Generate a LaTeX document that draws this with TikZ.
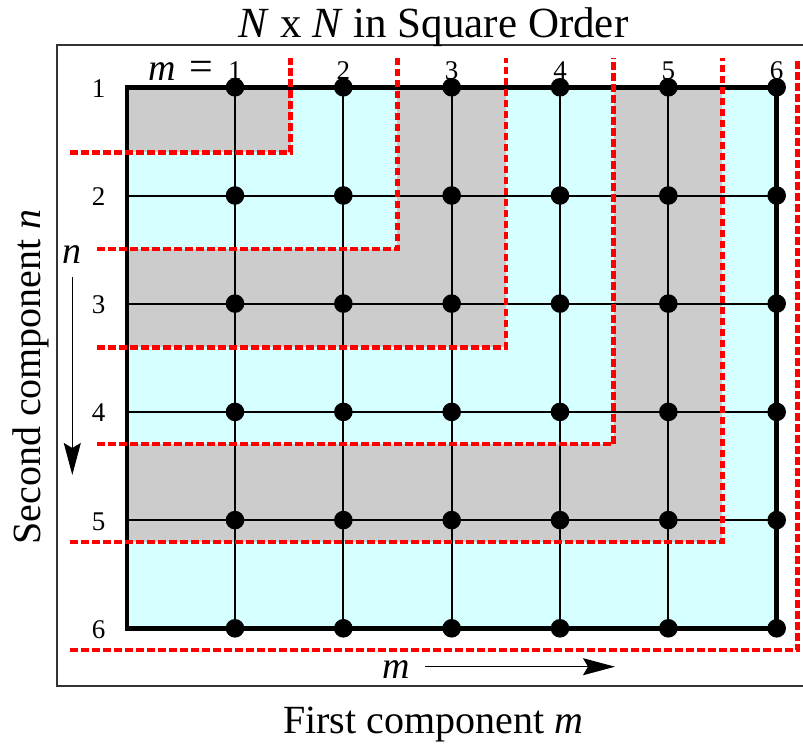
\documentclass[tikz,border=0pt]{standalone}
\usepackage{fontspec}
\setmainfont{Liberation Serif}
\usetikzlibrary{arrows.meta}
\definecolor{shellgrey}{HTML}{CCCCCC}
\definecolor{shellcyan}{HTML}{D6FFFF}
\definecolor{dashred}{HTML}{FF0000}
\definecolor{framecol}{HTML}{333333}
\begin{document}
\begin{tikzpicture}[x=1pt,y=-1pt,
  redline/.style={draw=dashred, line width=4.8pt, dash pattern=on 7.8pt off 3.2pt},
  gridline/.style={draw=black, line width=2pt},
  borderline/.style={draw=black, line width=4.6pt, line join=miter},
  dotnode/.style={circle, fill=black, inner sep=0pt, minimum size=18.6pt},
  numlab/.style={font=\fontsize{27}{27}\selectfont, anchor=base, inner sep=0pt},
  biglab/.style={font=\fontsize{40}{40}\selectfont, inner sep=0pt},
  dirarrow/.style={draw=black, line width=1.4pt, -{Stealth[length=32pt,width=17pt,inset=5pt]}}
]
\useasboundingbox (0,0) rectangle (803,744);
% frame
\draw[framecol, line width=1.5pt] (803,45) -- (57,45) -- (57,686) -- (803,686);
% coordinates
\def\xs{{127,235,343.33,451.67,560,668.33,776.67}}
\def\ys{{87.3,195.5,303.6,411.9,520.1,628.3}}
\coordinate (TL) at (127,87.3);
\coordinate (BR) at (776.67,628.3);
% shells
\fill[shellcyan] (TL) rectangle (BR);
\fill[shellgrey] (TL) rectangle (722.3,542);
\fill[shellcyan] (TL) rectangle (613.7,444);
\fill[shellgrey] (TL) rectangle (506,347.3);
\fill[shellcyan] (TL) rectangle (397.3,249);
\fill[shellgrey] (TL) rectangle (290.7,152.3);
% grid coordinates
\foreach \i in {1,...,6}{
  \foreach \j in {1,...,6}{
    \pgfmathsetmacro{\px}{\xs[\i]}
    \pgfmathsetmacro{\py}{\ys[\j-1]}
    \coordinate (g-\i-\j) at (\px,\py);
  }
  \pgfmathsetmacro{\py}{\ys[\i-1]}
  \coordinate (L-\i) at (127,\py);
}
% grid lines
\foreach \j in {2,...,5}{ \draw[gridline] (L-\j) -- (g-6-\j); }
\foreach \i in {1,...,5}{ \draw[gridline] (g-\i-1) -- (g-\i-6); }
% border
\draw[borderline] (TL) rectangle (BR);
% dots
\foreach \i in {1,...,6}{
  \foreach \j in {1,...,6}{ \node[dotnode] (d-\i-\j) at (g-\i-\j) {}; }
}
% red shell boundaries
\draw[redline] (70,152.3) -- (290.7,152.3) -- (290.7,58);
\draw[redline] (97,249) -- (397.3,249) -- (397.3,58);
\draw[redline] (97,347.3) -- (506,347.3) -- (506,58);
\draw[redline] (97,444) -- (613.7,444) -- (613.7,58);
\draw[redline] (70,542) -- (722.3,542) -- (722.3,58);
\draw[redline] (70,650) -- (797.7,650) -- (797.7,58);
% column labels
\foreach \i in {1,...,6}{
  \pgfmathsetmacro{\px}{\xs[\i]}
  \node[numlab] (c-\i) at (\px,79) {\i};
}
\node[font=\fontsize{38}{38}\selectfont, anchor=base, inner sep=0pt] (mm) at (162.5,80) {\textit{m}};
\node[font=\fontsize{42}{42}\selectfont, anchor=base, inner sep=0pt] (meq) at (201,80) {=};
% row labels
\foreach \j in {1,...,6}{
  \pgfmathsetmacro{\py}{\ys[\j-1]+10}
  \node[numlab] (r-\j) at (98.7,\py) {\j};
}
% title and axis labels
\node[font=\fontsize{43}{43}\selectfont, anchor=base, inner sep=0pt] (title) at (433.5,37) {\textit{N} x \textit{N} in Square Order};
\node[biglab, anchor=base] (xlab) at (433.3,733) {First component \textit{m}};
\node[biglab, anchor=base, rotate=90] (ylab) at (40,377) {Second component \textit{n}};
% direction arrows
\node[biglab, font=\fontsize{38}{38}\selectfont] (nlab) at (71.7,255) {\textit{n}};
\node[biglab, font=\fontsize{38}{38}\selectfont] (mlab) at (396.7,670) {\textit{m}};
\coordinate (ns) at (72.3,277);
\coordinate (ne) at (72.3,475);
\coordinate (ms) at (425,666.7);
\coordinate (me) at (615,666.7);
\draw[dirarrow] (ns) -- (ne);
\draw[dirarrow] (ms) -- (me);
\end{tikzpicture}
\end{document}
